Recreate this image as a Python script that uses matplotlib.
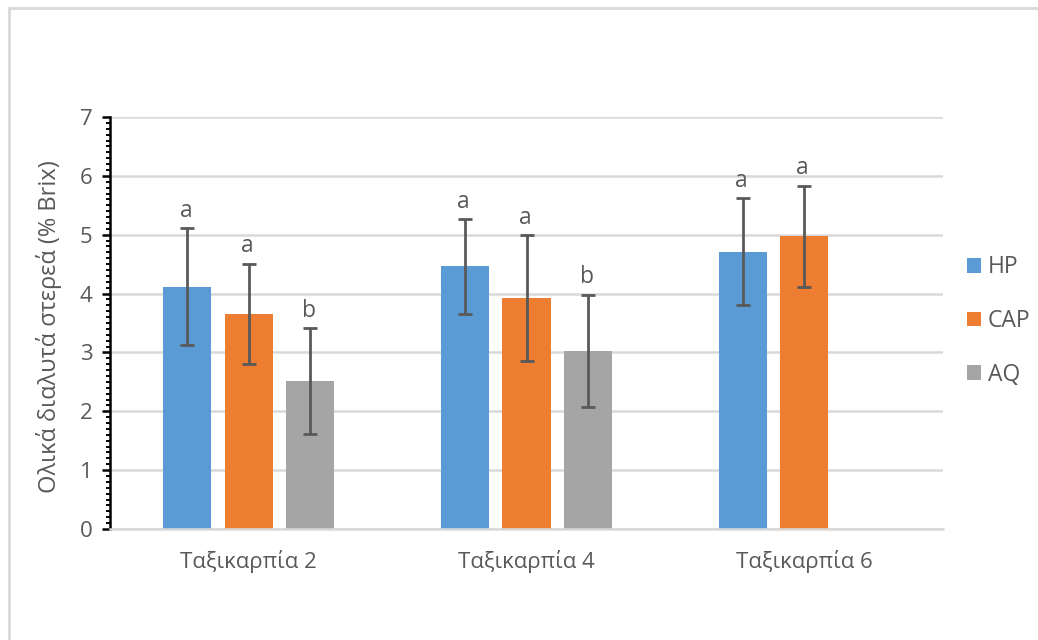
import numpy as np
import matplotlib
matplotlib.use("Agg")
import matplotlib.pyplot as plt
from matplotlib.patches import Rectangle, Patch
from matplotlib.ticker import MultipleLocator

plt.rcParams['font.family'] = ['Open Sans', 'DejaVu Sans']

# mean total soluble solids and error per fruiting class
categories = ['Ταξικαρπία 2', 'Ταξικαρπία 4', 'Ταξικαρπία 6']
series = ['HP', 'CAP', 'AQ']
hp_mean = [4.12, 4.46, 4.71]
hp_err = [0.99, 0.80, 0.91]
cap_mean = [3.66, 3.92, 4.97]
cap_err = [0.85, 1.07, 0.86]
aq_mean = [2.51, 3.03, np.nan]
aq_err = [0.90, 0.95, np.nan]
letters_hp = ['a', 'a', 'a']
letters_cap = ['a', 'a', 'a']
letters_aq = ['b', 'b', '']

colors = ['#5B9BD5', '#ED7D31', '#A5A5A5']
txt = '#595959'

fig = plt.figure(figsize=(10.38, 6.4), dpi=100)
W, H = 1038, 640
ax = fig.add_axes([110 / W, (H - 529) / H, (943 - 110) / W, (529 - 117) / H])

# chart frame (top and left edges visible)
fig.patches.append(Rectangle((9 / W, -0.1), 1.2, (H - 8) / H + 0.1, transform=fig.transFigure,
                             fill=False, edgecolor='#d9d9d9', linewidth=2, zorder=0))

x = np.arange(len(categories))
width = 0.173
step = 0.2215
means = [hp_mean, cap_mean, aq_mean]
errs = [hp_err, cap_err, aq_err]
letters = [letters_hp, letters_cap, letters_aq]

for i, (m, e, l) in enumerate(zip(means, errs, letters)):
    pos = x + (i - 1) * step
    m = np.array(m, dtype=float)
    e = np.array(e, dtype=float)
    ok = ~np.isnan(m)
    ax.bar(pos[ok], m[ok], width, color=colors[i], zorder=2, label=series[i])
    ax.errorbar(pos[ok], m[ok], yerr=e[ok], fmt='none', ecolor=txt, elinewidth=2,
                capsize=4.8, capthick=2, zorder=3)
    for p, mv, ev, lt in zip(pos[ok], m[ok], e[ok], np.array(l)[ok]):
        ax.annotate(lt, (p, mv + ev), xytext=(-1, 8.4), textcoords='offset points',
                    ha='center', va='baseline', fontsize=16.5, color=txt)

ax.set_xlim(-0.5, 2.5)
ax.set_ylim(0, 7)
ax.yaxis.set_major_locator(MultipleLocator(1))
ax.yaxis.set_minor_locator(MultipleLocator(0.1))
ax.grid(axis='y', color='#d9d9d9', linewidth=1.8, zorder=0)
ax.set_axisbelow(True)

for s in ['top', 'right']:
    ax.spines[s].set_visible(False)
ax.spines['bottom'].set_color('#d9d9d9')
ax.spines['bottom'].set_linewidth(1.8)
ax.spines['left'].set_color('black')
ax.spines['left'].set_linewidth(1.8)

ax.set_xticks(x)
ax.set_xticklabels(categories)
ax.tick_params(axis='x', length=0, pad=15, labelsize=16, labelcolor=txt)
ax.tick_params(axis='y', which='major', length=5.5, width=1.8, color='black',
               labelsize=16, labelcolor=txt, pad=7)
ax.tick_params(axis='y', which='minor', length=3, width=1.4, color='black')

ax.set_ylabel('Ολικά διαλυτά στερεά (% Brix)', fontsize=17, color=txt)
ax.yaxis.set_label_coords((62 - 110) / 833, 0.49)

handles = [Patch(facecolor=c, edgecolor='none') for c in colors]
fig.legend(handles, series, loc='center left', bbox_to_anchor=(967 / W, (H - 321) / H),
           frameon=False, handlelength=0.62, handleheight=0.62, handletextpad=0.3,
           labelspacing=1.3, borderpad=0, borderaxespad=0, fontsize=16.5, labelcolor=txt)

fig.savefig('out.png', dpi=100)
